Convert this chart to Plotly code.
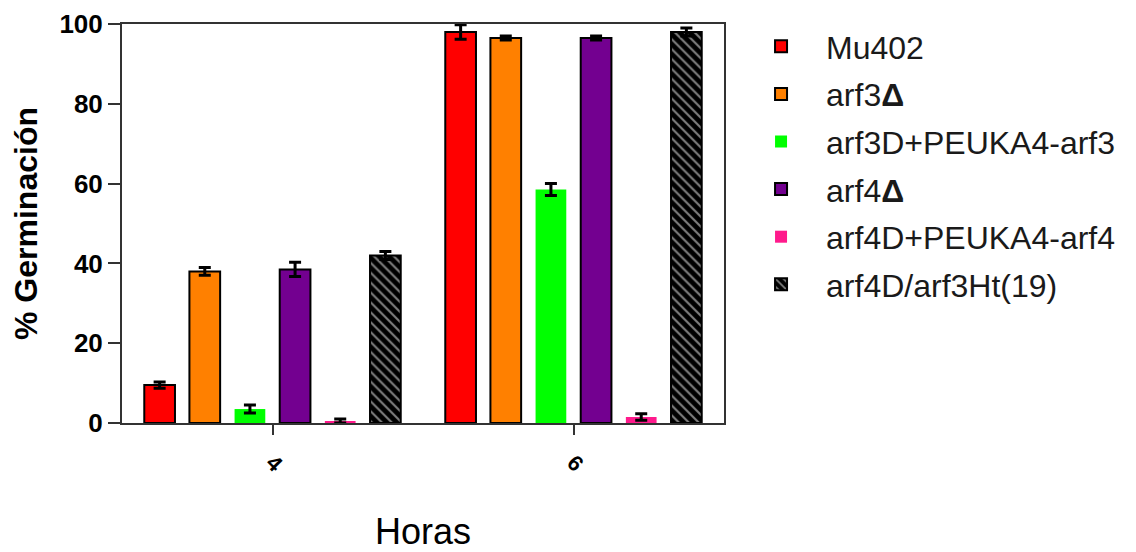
import plotly.graph_objects as go

horas = ["4", "6"]
series_names = ["Mu402", "arf3<b>Δ</b>", "arf3D+PEUKA4-arf3", "arf4<b>Δ</b>",
                "arf4D+PEUKA4-arf4", "arf4D/arf3Ht(19)"]
mu402 = [9.5, 98.0]
arf3d = [38.0, 96.5]
arf3_comp = [3.5, 58.5]
arf4d = [38.5, 96.5]
arf4_comp = [0.5, 1.5]
arf4d_arf3ht = [42.0, 98.0]
values = [mu402, arf3d, arf3_comp, arf4d, arf4_comp, arf4d_arf3ht]
errors = [[0.8, 1.8], [1.0, 0.5], [1.0, 1.5], [1.8, 0.5], [0.5, 0.8], [1.0, 1.0]]

colors = ["#FF0000", "#FF8000", "#00FF00", "#730090", "#FF1A8C", "#000000"]
outlines = [2, 2, 0, 2, 0, 2]

fig = go.Figure()
for i, (name, vals, err) in enumerate(zip(series_names, values, errors)):
    marker = dict(color=colors[i], line=dict(color="black", width=outlines[i]))
    if i == 5:
        marker["pattern"] = dict(shape="\\", fgcolor="white", bgcolor="black",
                                 size=7, solidity=0.3, fillmode="overlay")
    fig.add_trace(go.Bar(
        x=horas, y=vals, name=name, marker=marker, legendgroup=f"g{i}",
        error_y=dict(type="data", array=err, visible=True, color="black",
                     thickness=3, width=6),
    ))

fig.update_layout(
    width=1128, height=544,
    margin=dict(l=114, r=412, t=15, b=129),
    paper_bgcolor="white", plot_bgcolor="white",
    barmode="group", bargap=0.1, bargroupgap=0.32,
    font=dict(family="Arial, Liberation Sans, sans-serif", color="black"),
    legend=dict(x=1.02, y=1.01, yanchor="top", xanchor="left",
                font=dict(size=32, color="#1a1a1a"), tracegroupgap=3,
                itemwidth=80, bgcolor="rgba(0,0,0,0)", maxheight=520),
    showlegend=True,
)
fig.update_xaxes(
    title=dict(text="Horas", font=dict(size=36), standoff=48),
    tickfont=dict(size=22, weight="bold"),
    tickangle=45, ticklabelstandoff=6, automargin=False,
    showline=True, linecolor="#333333", linewidth=2, mirror=True,
    ticks="outside", ticklen=10, tickcolor="#333333", tickwidth=2,
)
fig.update_yaxes(
    title=dict(text="% Germinación", font=dict(size=32, weight="bold"), standoff=12),
    range=[0, 100], tickvals=[0, 20, 40, 60, 80, 100],
    tickfont=dict(size=26, weight="bold"), automargin=False,
    showline=True, linecolor="#333333", linewidth=2, mirror=True,
    ticks="outside", ticklen=12, tickcolor="#333333", tickwidth=2,
    showgrid=False, zeroline=False,
)

fig.write_html("out.html")
